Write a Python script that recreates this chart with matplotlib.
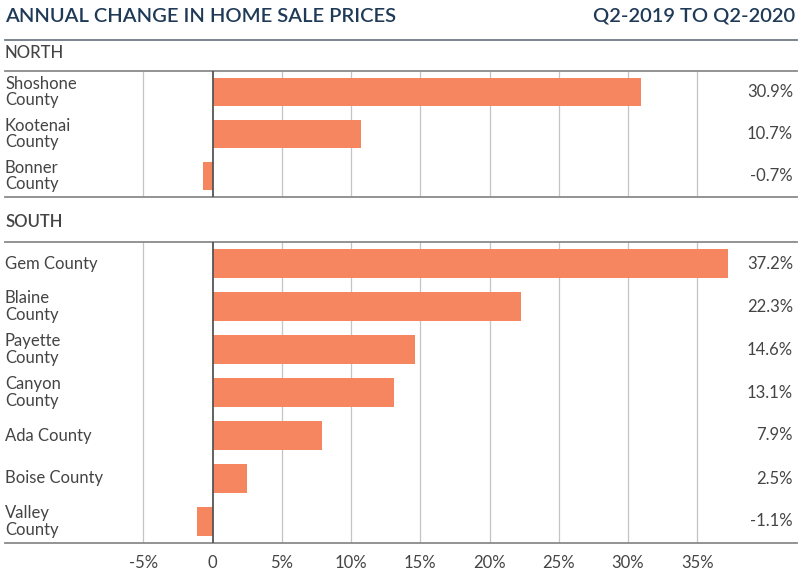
import matplotlib
matplotlib.use("Agg")
import matplotlib.pyplot as plt
from matplotlib.lines import Line2D
import matplotlib.transforms as mtrans

plt.rcParams['font.family'] = ['Lato', 'DejaVu Sans']

title_left = "ANNUAL CHANGE IN HOME SALE PRICES"
title_right = "Q2-2019 TO Q2-2020"

north_labels = ["Shoshone\nCounty", "Kootenai\nCounty", "Bonner\nCounty"]
north_values = [30.9, 10.7, -0.7]

south_labels = ["Gem County", "Blaine\nCounty", "Payette\nCounty", "Canyon\nCounty",
                "Ada County", "Boise County", "Valley\nCounty"]
south_values = [37.2, 22.3, 14.6, 13.1, 7.9, 2.5, -1.1]

tick_values = [-5, 0, 5, 10, 15, 20, 25, 30, 35]
tick_labels = ["-5%", "0", "5%", "10%", "15%", "20%", "25%", "30%", "35%"]

W, H = 800, 580
BAR = "#F5865F"
TXT = "#444444"
NAVY = "#1F3A57"

fig = plt.figure(figsize=(W / 100, H / 100), dpi=100)

def fx(px):
    return px / W

def fy(py):
    return 1 - py / H

L, R = 5, 797
XMIN, XMAX = -15.0, 42.2

def panel(top, bottom, labels, values, show_ticks):
    ax = fig.add_axes([fx(L), fy(bottom), fx(R) - fx(L), fy(top) - fy(bottom)])
    n = len(values)
    ys = list(range(n))
    ax.set_xlim(XMIN, XMAX)
    ax.set_ylim(n - 0.5, -0.5)
    for t in tick_values:
        if t == 0:
            continue
        ax.axvline(t, color="#C4C4C4", lw=0.9, zorder=0)
    ax.barh(ys, values, height=0.66, color=BAR, zorder=2)
    ax.axvline(0, color="#555555", lw=1.3, zorder=3)
    for s in ["left", "right"]:
        ax.spines[s].set_visible(False)
    for s in ["top", "bottom"]:
        ax.spines[s].set_color("#8A8A8A")
        ax.spines[s].set_linewidth(1.3)
    ax.set_yticks([])
    trans = mtrans.blended_transform_factory(ax.transAxes, ax.transData)
    for y, lab, v in zip(ys, labels, values):
        ax.text(0.0, y, lab, transform=trans, ha="left", va="center",
                fontsize=12, color=TXT, linespacing=1.05)
        ax.text(0.995, y, f"{v}%", transform=trans, ha="right", va="center",
                fontsize=12, color=TXT)
    if show_ticks:
        ax.set_xticks(tick_values)
        ax.set_xticklabels(tick_labels, fontsize=12, color=TXT)
        ax.tick_params(axis="x", length=0, pad=9)
    else:
        ax.set_xticks([])
    return ax

panel(71, 197, north_labels, north_values, False)
panel(242, 543, south_labels, south_values, True)

fig.text(fx(5), fy(16), title_left, ha="left", va="center", fontsize=14.5,
         color=NAVY, fontweight="semibold")
fig.text(fx(795), fy(16), title_right, ha="right", va="center", fontsize=14.5,
         color=NAVY, fontweight="semibold")
fig.add_artist(Line2D([fx(L), fx(R)], [fy(40), fy(40)], color="#6F7A86", lw=1.3))

fig.text(fx(5), fy(53), "NORTH", ha="left", va="center", fontsize=12,
         color=TXT, fontweight="medium")
fig.text(fx(5), fy(222), "SOUTH", ha="left", va="center", fontsize=12,
         color=TXT, fontweight="semibold")

fig.savefig("out.png", dpi=100)
